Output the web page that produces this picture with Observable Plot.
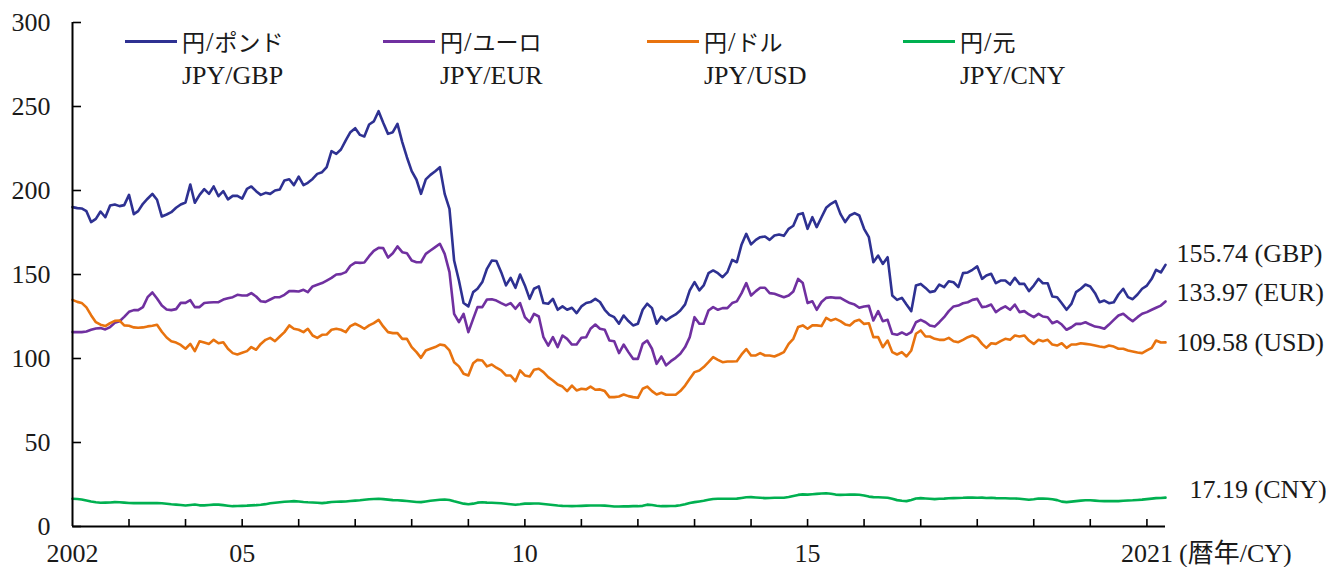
<!DOCTYPE html>
<html>
<head>
<meta charset="utf-8">
<script src="https://cdn.jsdelivr.net/npm/d3@7"></script>
<script src="https://cdn.jsdelivr.net/npm/@observablehq/plot@0.6"></script>
<style>
  body { margin: 0; background: #fff; }
  #wrap { position: relative; width: 1326px; height: 567px; overflow: hidden;
          font-family: "Liberation Serif", "Noto Sans CJK JP", serif; color: #1a1a1a; }
  #wrap svg { position: absolute; left: 0; top: 0; }
  .item { position: absolute; top: 0; height: 100px; }
  .sw { position: absolute; left: 0; top: 40px; width: 52px; height: 3px; }
  .l1, .l2 { position: absolute; left: 57px; white-space: nowrap; height: 30px; line-height: 30px; }
  .l1 { top: 27px; font-size: 23px; }
  .l1 .s { font-size: 27px; margin: 0 1px; }
  .l2 { top: 61px; font-size: 26px; }
</style>
</head>
<body>
<div id="wrap"></div>
<script>
// ---- data (monthly, Jan 2002 – May 2021) ----
const startYear = 2002;
const gbp = [
190.1,189.5,189.3,187.7,181.2,183.1,187.5,184.1,191.1,191.7,
190.7,191.3,197.4,185.9,187.7,192.1,195.1,198.0,194.5,184.5,
185.7,187.1,189.7,191.7,192.9,203.6,192.7,197.4,200.8,198.0,
202.4,196.6,199.6,194.7,196.8,196.8,195.2,201.0,202.4,199.6,
197.4,198.6,198.0,200.0,200.6,206.0,206.7,203.2,208.3,203.2,
204.6,206.9,209.9,210.9,213.9,223.4,221.8,224.4,229.8,234.7,
237.1,233.1,232.2,239.3,241.1,247.2,240.3,233.7,234.7,239.7,
228.8,219.8,211.5,206.4,198.0,206.6,209.3,211.5,213.9,198.0,
189.1,158.3,146.4,133.0,131.0,139.5,141.5,145.5,153.4,158.3,
158.0,151.4,143.5,148.0,142.1,150.0,143.5,135.5,141.5,142.9,
133.0,132.6,135.5,129.0,131.0,129.0,130.2,127.0,131.0,133.0,
133.6,135.5,133.6,129.0,126.0,124.6,120.7,125.6,122.3,119.7,
120.7,129.0,132.6,130.0,120.7,125.0,122.6,124.6,126.2,128.6,
132.2,140.5,145.5,140.5,143.5,150.8,152.4,150.8,148.4,151.4,
158.7,157.3,167.9,174.2,167.9,170.6,172.2,172.6,170.6,173.2,
173.8,173.0,177.2,179.0,185.7,186.5,177.2,184.1,178.2,184.1,
189.7,192.1,193.7,186.1,181.2,185.1,186.5,185.1,177.2,172.2,
157.3,161.3,156.3,160.3,137.5,134.9,136.1,132.1,128.2,143.4,
144.4,142.0,139.5,140.1,144.0,142.5,146.0,145.4,142.5,150.8,
151.2,152.8,154.8,147.4,149.4,150.4,144.8,146.4,146.4,144.0,
148.0,144.4,144.4,140.1,143.4,147.4,144.8,144.8,136.9,136.5,
132.9,129.0,132.5,139.5,141.5,144.0,142.9,138.9,133.5,134.5,
132.9,133.5,138.1,141.5,136.5,135.3,138.1,141.5,143.4,147.4,
152.8,151.2,155.74
];
const eur = [
115.7,115.7,115.7,116.1,117.1,117.9,118.1,117.3,118.7,121.2,
122.2,124.8,127.8,128.8,128.8,130.6,136.5,139.3,135.7,131.5,
129.2,128.8,129.4,133.1,133.1,134.7,130.6,130.6,133.0,133.3,
133.5,133.5,135.1,135.9,136.5,137.9,137.5,137.5,138.9,136.9,
134.1,133.7,135.1,136.5,136.5,137.9,140.1,140.1,139.9,140.9,
139.5,142.9,143.9,144.9,146.4,148.0,150.0,150.2,151.4,155.2,
157.1,156.9,157.1,160.9,164.1,165.9,165.7,160.1,162.7,166.7,
163.3,162.7,158.3,157.3,157.3,162.3,164.3,166.3,168.3,162.3,
151.4,126.6,121.6,126.6,115.7,123.6,130.6,130.6,135.1,135.3,
134.5,133.0,131.6,133.0,129.6,133.0,124.6,121.6,126.6,125.0,
112.7,107.7,112.7,106.8,113.7,111.7,108.3,108.3,112.3,112.7,
117.7,120.2,117.7,117.1,110.7,110.3,103.2,108.3,103.8,99.8,
99.8,108.7,110.7,105.8,96.8,101.2,95.9,98.4,100.4,102.8,
106.8,112.7,124.6,120.7,120.7,128.6,130.6,129.0,130.0,130.0,
133.0,134.0,138.9,144.9,137.5,140.1,142.1,142.1,138.9,138.5,
137.5,136.5,137.5,139.9,147.4,144.9,133.0,134.1,129.0,133.6,
136.1,136.5,136.1,136.1,134.5,133.0,132.1,130.2,131.0,131.3,
122.6,128.2,122.2,123.0,114.7,114.1,115.5,114.1,115.7,121.6,
123.0,121.6,119.6,119.0,121.6,124.6,128.2,131.0,131.5,132.9,
133.5,134.9,135.5,130.6,131.0,132.1,127.6,129.6,131.0,129.0,
132.1,127.6,128.2,126.2,124.6,126.6,125.0,124.6,121.0,122.2,
120.2,117.1,118.6,120.6,120.6,121.6,120.2,119.0,118.6,117.7,
120.2,123.0,125.6,126.6,124.2,122.2,124.6,126.6,127.6,129.0,
130.2,131.5,133.97
];
const usd = [
134.9,133.7,133.1,130.4,125.8,121.6,120.1,119.3,121.1,122.4,
122.6,119.7,119.5,118.5,118.3,118.5,119.1,119.5,120.1,115.9,
112.5,110.3,109.5,108.1,105.8,108.7,104.4,110.3,109.5,108.7,
111.1,109.1,109.7,105.8,103.2,102.4,103.4,104.4,106.8,105.2,
108.7,111.1,112.3,110.3,113.1,115.7,119.7,117.7,117.1,115.7,
117.7,113.7,112.3,114.1,114.3,117.1,117.7,117.1,115.7,119.3,
120.7,119.3,117.7,119.7,121.1,123.0,119.1,115.7,115.1,115.1,
111.7,111.7,106.8,103.8,100.4,104.8,105.8,106.8,108.3,107.8,
104.8,97.8,95.3,90.9,89.9,97.2,99.2,98.8,95.3,96.4,
94.5,92.9,89.9,89.9,86.5,92.9,89.9,89.3,93.3,93.9,
91.9,88.9,86.9,84.5,83.3,80.6,83.9,81.0,82.0,81.6,
83.3,81.4,81.6,80.6,77.0,77.0,77.4,78.6,77.6,77.0,
76.6,82.0,83.3,80.6,78.6,79.6,78.4,78.4,78.4,80.6,
83.9,87.9,91.9,92.9,94.9,97.8,100.8,99.2,97.8,98.2,
98.2,98.4,102.4,105.6,101.8,101.8,103.2,101.8,101.8,101.2,
102.4,103.8,108.7,111.7,118.7,119.7,117.7,119.7,119.7,119.3,
124.2,122.6,123.6,122.2,120.3,119.7,122.2,123.0,120.6,121.0,
112.7,112.7,106.7,110.7,103.8,102.4,103.8,101.2,104.8,114.7,
116.7,113.1,113.1,111.7,111.1,111.1,112.3,110.3,109.7,111.1,
112.7,113.7,112.3,108.7,106.3,109.1,108.7,110.3,111.7,111.1,
113.7,113.1,113.7,110.7,108.7,111.1,110.3,111.1,108.3,107.7,
109.1,106.3,108.3,108.3,109.1,108.7,108.3,107.7,107.1,106.7,
107.7,107.1,105.8,105.8,104.8,104.2,103.6,103.2,104.8,106.3,
110.7,109.5,109.58
];
const cny = [
16.5,16.4,16.1,15.5,14.9,14.4,14.1,14.2,14.3,14.5,
14.4,14.2,14.0,13.9,13.9,14.0,13.9,14.0,13.9,13.8,
13.5,13.2,13.0,12.8,12.5,12.8,13.1,12.6,12.6,12.8,
13.0,13.0,12.7,12.4,12.1,12.2,12.3,12.4,12.6,12.7,
12.9,13.3,13.8,14.1,14.4,14.7,14.9,15.1,14.9,14.6,
14.4,14.3,14.1,13.9,14.2,14.6,14.7,14.8,14.9,15.2,
15.4,15.6,15.9,16.2,16.4,16.5,16.3,16.0,15.7,15.6,
15.4,15.2,14.9,14.6,14.5,14.9,15.3,15.6,15.9,16.1,
15.8,15.0,14.3,13.6,13.2,13.6,14.2,14.4,14.2,14.1,
14.0,13.8,13.5,13.2,12.9,13.2,13.6,13.6,13.7,13.7,
13.4,13.1,12.8,12.5,12.3,12.2,12.1,12.2,12.3,12.4,
12.5,12.5,12.5,12.4,12.2,11.9,11.9,12.0,12.0,12.1,
12.1,12.3,13.0,12.8,12.4,12.1,12.1,12.2,12.3,12.6,
13.2,14.0,14.5,14.9,15.3,15.9,16.4,16.5,16.5,16.5,
16.5,16.6,17.0,17.4,17.5,17.3,17.1,16.9,17.0,17.1,
17.1,17.1,17.6,18.2,18.8,19.1,19.0,19.2,19.4,19.6,
19.8,19.5,19.0,18.8,18.9,19.0,19.0,18.9,18.5,17.8,
17.5,17.4,17.3,17.1,16.5,15.7,15.3,15.1,15.8,16.7,
16.9,16.7,16.5,16.3,16.5,16.6,16.8,16.9,17.0,17.1,
17.3,17.2,17.1,17.2,17.0,17.1,16.9,16.8,16.8,16.7,
16.7,16.5,16.2,15.9,16.2,16.7,16.6,16.5,16.2,15.7,
14.8,14.5,14.8,15.1,15.4,15.6,15.6,15.4,15.2,15.1,
15.1,15.1,15.1,15.3,15.5,15.6,15.8,16.0,16.3,16.6,
16.9,17.0,17.19
];
const seriesKeys   = ["GBP", "EUR", "USD", "CNY"];
const seriesNames  = ["円/ポンド", "円/ユーロ", "円/ドル", "円/元"];
const seriesCodes  = ["JPY/GBP", "JPY/EUR", "JPY/USD", "JPY/CNY"];
const endLabels    = ["155.74 (GBP)", "133.97 (EUR)", "109.58 (USD)", "17.19 (CNY)"];
const yTicks = [0, 50, 100, 150, 200, 250, 300];
const labelYears = [2002, 2005, 2010, 2015, 2021];
const labelTexts = ["2002", "05", "10", "15", "2021"];
const axisUnit = " (暦年/CY)";

// ---- styles ----
const colors = ["#2E3192", "#7030A0", "#E8730F", "#00B050"];
const endDx = [11, 11, 11, 24];
const endDy = [-11, -9, 0, -8];
const legendLeft = [125, 383, 647, 903];

const values = [gbp, eur, usd, cny];
const nMonths = gbp.length;
const months = d3.range(nMonths).map(i => new Date(Date.UTC(startYear, i, 1)));
const data = seriesKeys.flatMap((k, s) => values[s].map((v, i) => ({date: months[i], value: v, key: k})));
const lastPts = seriesKeys.map((k, s) => ({date: months[nMonths - 1], value: values[s][nMonths - 1], key: k, label: endLabels[s]}));
const yearTicks = d3.range(startYear + 1, 2022).map(y => new Date(Date.UTC(y, 0, 1)));
const labelTicks = labelYears.map(y => new Date(Date.UTC(y, 0, 1)));
const labelMap = new Map(labelYears.map((y, i) => [y, labelTexts[i]]));

const font = '"Liberation Serif", "Noto Sans CJK JP", serif';
const fs = 26;

const chart = Plot.plot({
  width: 1326,
  height: 567,
  marginLeft: 72,
  marginRight: 161,
  marginTop: 22,
  marginBottom: 41,
  style: {fontFamily: font, fontSize: fs + "px", color: "#1a1a1a", background: "transparent", overflow: "visible"},
  x: {type: "utc", domain: [months[0], months[nMonths - 1]]},
  y: {domain: [0, 300]},
  color: {domain: seriesKeys, range: colors},
  marks: [
    Plot.axisY({ticks: yTicks, anchor: "left", tickSize: 0, tickPadding: 22, label: null, fontSize: fs}),
    Plot.axisY({ticks: yTicks, anchor: "right", frameAnchor: "left", tickSize: 8, tickFormat: () => "", label: null, strokeWidth: 1.6, stroke: "#000"}),
    Plot.axisX({ticks: yearTicks, anchor: "top", frameAnchor: "bottom", tickSize: 8, tickFormat: () => "", label: null, strokeWidth: 1.6, stroke: "#000"}),
    Plot.axisX({ticks: labelTicks, anchor: "bottom", tickSize: 0, tickPadding: 17, tickFormat: d => labelMap.get(d.getUTCFullYear()), label: null, fontSize: fs}),
    Plot.text([axisUnit], {frameAnchor: "bottom-right", textAnchor: "start", lineAnchor: "top", dx: 7, dy: 17, fontSize: fs, fill: "#1a1a1a"}),
    Plot.line(data, {x: "date", y: "value", z: "key", stroke: "key", strokeWidth: 2.6, strokeLinejoin: "round"}),
    Plot.ruleY([0], {stroke: "#000", strokeWidth: 2}),
    Plot.ruleX([months[0]], {stroke: "#000", strokeWidth: 2}),
    ...lastPts.map((p, i) => Plot.text([p], {x: "date", y: "value", text: "label", textAnchor: "start", dx: endDx[i], dy: endDy[i], fontSize: fs, fill: "#1a1a1a"}))
  ]
});

const wrap = document.getElementById("wrap");
wrap.appendChild(chart);

seriesKeys.forEach((k, i) => {
  const item = document.createElement("div");
  item.className = "item";
  item.style.left = legendLeft[i] + "px";
  const sw = document.createElement("div");
  sw.className = "sw";
  sw.style.background = colors[i];
  const l1 = document.createElement("div");
  l1.className = "l1";
  const parts = seriesNames[i].split("/");
  l1.append(parts[0]);
  const sl = document.createElement("span");
  sl.className = "s";
  sl.textContent = "/";
  l1.append(sl, parts[1]);
  const l2 = document.createElement("div");
  l2.className = "l2";
  l2.textContent = seriesCodes[i];
  item.append(sw, l1, l2);
  wrap.appendChild(item);
});
</script>
</body>
</html>
